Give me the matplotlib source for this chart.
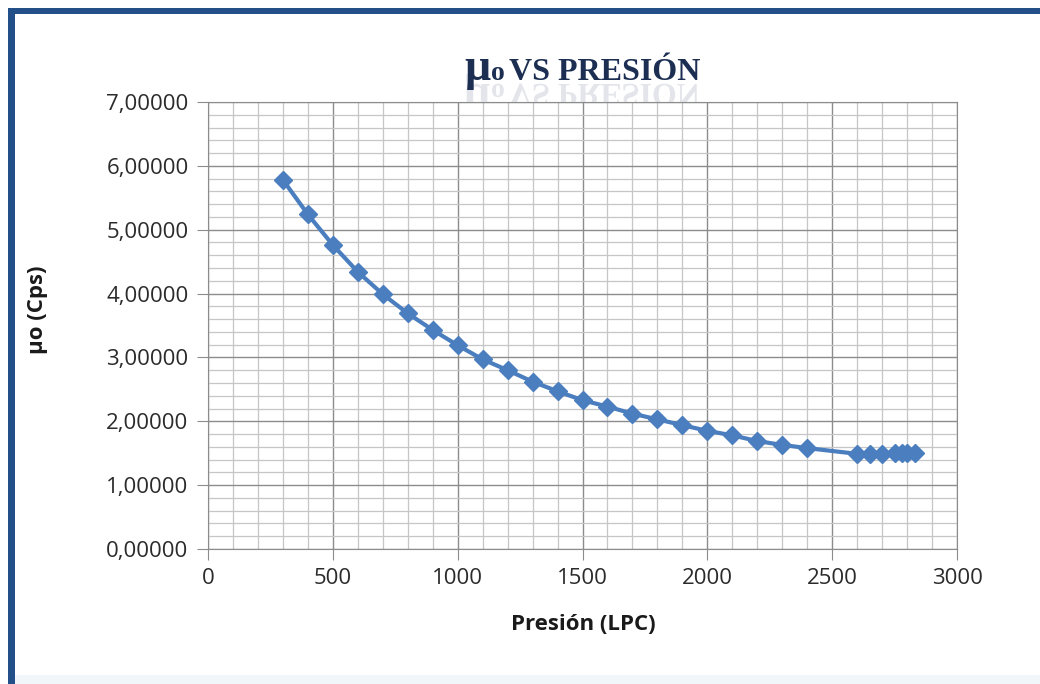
import matplotlib
matplotlib.use('Agg')
from matplotlib import pyplot as plt
from matplotlib.textpath import TextPath
from matplotlib.patches import PathPatch, Rectangle
from matplotlib.font_manager import FontProperties
from matplotlib.transforms import Affine2D, IdentityTransform
from matplotlib.ticker import MultipleLocator, FuncFormatter

# viscosidad del petróleo vs presión
presion = [300, 400, 500, 600, 700, 800, 900, 1000, 1100, 1200, 1300, 1400,
           1500, 1600, 1700, 1800, 1900, 2000, 2100, 2200, 2300, 2400,
           2600, 2650, 2700, 2750, 2780, 2800, 2830]
mu_o = [5.78, 5.24, 4.76, 4.34, 3.99, 3.69, 3.43, 3.19, 2.97, 2.80, 2.62, 2.47,
        2.33, 2.23, 2.12, 2.03, 1.94, 1.85, 1.78, 1.69, 1.63, 1.58,
        1.49, 1.49, 1.49, 1.50, 1.50, 1.50, 1.50]

x_ticks = [0, 500, 1000, 1500, 2000, 2500, 3000]
y_ticks = [0, 1, 2, 3, 4, 5, 6, 7]

W, H = 1040, 684
fig = plt.figure(figsize=(W / 100, H / 100), dpi=100)
fig.patch.set_facecolor('white')

# marco azul a la izquierda y arriba
fig.patches.append(Rectangle((8 / W, 0), 7 / W, 1 - 8 / H, transform=fig.transFigure,
                             facecolor='#24508a', edgecolor='none', zorder=5))
fig.patches.append(Rectangle((8 / W, 1 - 14 / H), 1 - 8 / W, 6 / H, transform=fig.transFigure,
                             facecolor='#24508a', edgecolor='none', zorder=5))
fig.patches.append(Rectangle((15 / W, 0), 1 - 15 / W, 9 / H, transform=fig.transFigure,
                             facecolor='#f1f6fb', edgecolor='none', zorder=-2))

ax = fig.add_axes([208 / W, 1 - 549 / H, 749 / W, 447 / H])
ax.plot(presion, mu_o, color='#4a7ebf', lw=3, marker='D', ms=9.5,
        markeredgecolor='#4a7ebf', zorder=3)

ax.set_xlim(0, 3000)
ax.set_ylim(0, 7)
ax.set_xticks(x_ticks)
ax.set_yticks(y_ticks)
ax.xaxis.set_minor_locator(MultipleLocator(100))
ax.yaxis.set_minor_locator(MultipleLocator(0.2))
ax.yaxis.set_major_formatter(FuncFormatter(lambda v, p: f'{v:.5f}'.replace('.', ',')))
ax.grid(which='major', color='#8c8c8c', lw=1.0)
ax.grid(which='minor', color='#c6c6c6', lw=0.9)
ax.set_axisbelow(True)
for s in ax.spines.values():
    s.set_color('#8c8c8c')
ax.tick_params(which='major', length=8, color='#8c8c8c', labelsize=16,
               labelcolor='#2b2b2b', pad=6)
ax.tick_params(which='minor', length=0)
for lab in ax.get_xticklabels() + ax.get_yticklabels():
    lab.set_family('Open Sans')

fig.text(583 / W, 1 - 625 / H, 'Presión (LPC)', ha='center', va='center',
         fontsize=16, fontweight='bold', family='Open Sans', color='#1a1a1a')
fig.text(37 / W, 1 - 310 / H, 'μo (Cps)', ha='center', va='center', rotation=90,
         fontsize=16, fontweight='bold', family='Open Sans', color='#1a1a1a')

# título con reflejo
serif = FontProperties(family='Liberation Serif', weight='bold')
base = 80
partes = [('μ', 464, 33), ('o', 491, 20), ('VS PRESIÓN', 509, 23)]
k = 100 / 72
for txt, x0, size in partes:
    fig.text(x0, H - base, txt, transform=IdentityTransform(), ha='left',
             va='baseline', fontproperties=serif, fontsize=size, color='#1c2f52')
    tp = TextPath((0, 0), txt, size=size, prop=serif)
    tr = Affine2D().scale(k, -k).translate(x0, H - base - 4)
    fig.patches.append(PathPatch(tp, transform=tr, facecolor='#a3abbd',
                                 edgecolor='none', alpha=0.3, zorder=-1))

fig.savefig('out.png', dpi=100)
